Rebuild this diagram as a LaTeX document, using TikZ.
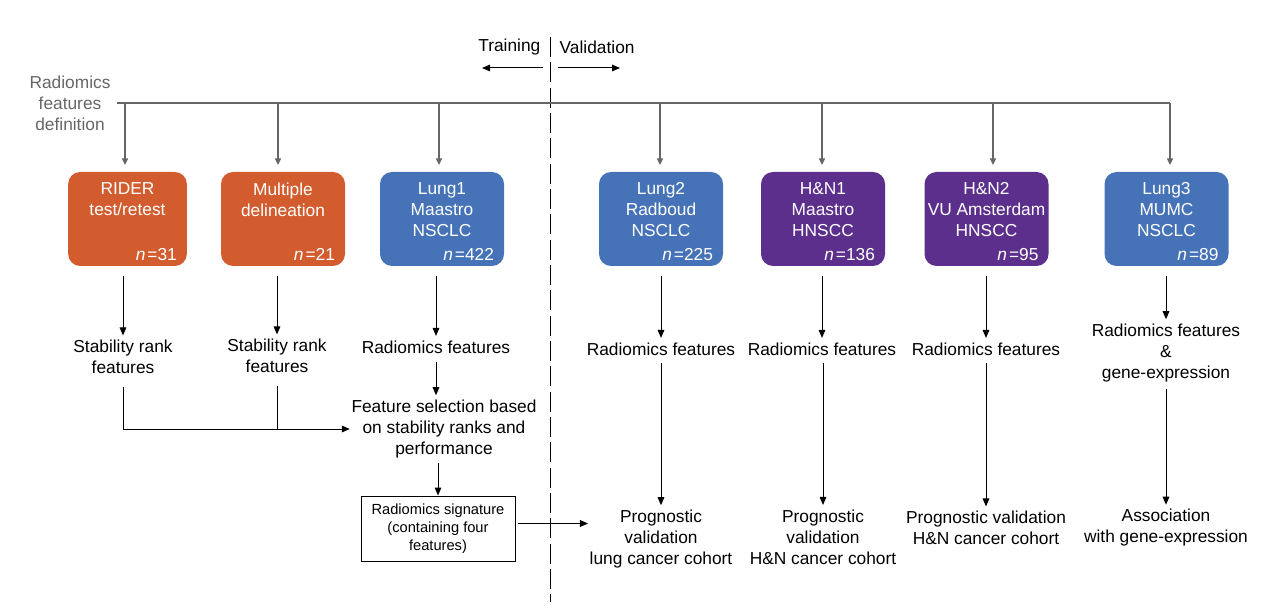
\documentclass[tikz,border=0pt]{standalone}
\usepackage{fontspec}
\setmainfont{Liberation Sans}
\usetikzlibrary{arrows.meta,calc}
\definecolor{cOrange}{HTML}{D35C2F}
\definecolor{cBlue}{HTML}{4673B7}
\definecolor{cPurple}{HTML}{5B2F8B}
\definecolor{cGrey}{HTML}{666666}
\begin{document}
\begin{tikzpicture}[x=0.75pt,y=-0.75pt,
  cohort/.style={rounded corners=9pt,minimum width=93pt,minimum height=70.5pt,inner sep=0pt},
  boxtxt/.style={text=white,font=\fontsize{13}{15.75}\selectfont,align=center,anchor=north,inner sep=0pt},
  ntxt/.style={text=white,font=\fontsize{13}{15.75}\selectfont,anchor=base east,inner sep=0pt},
  txt/.style={font=\fontsize{13}{15.75}\selectfont,align=center},
  sigbox/.style={draw,line width=0.75pt,font=\fontsize{11}{13.5}\selectfont,align=center,minimum width=115.5pt,minimum height=48.75pt,inner sep=2pt},
  arr/.style={line width=0.75pt,-{Triangle[length=6pt,width=5pt]}},
  plain/.style={line width=0.75pt},
  garr/.style={cGrey,line width=0.9pt,-{Triangle[length=5pt,width=4.5pt]}},
  gline/.style={cGrey,line width=0.9pt}
]
\useasboundingbox (0,0) rectangle (1274,609);

% training / validation
\draw[plain,dash pattern=on 15pt off 4pt] (550,37) -- (550,602);
\node[txt,anchor=east] (train) at (545,47) {Training};
\node[txt,anchor=west] (valid) at (555,47) {Validation};
\coordinate (tl1) at (543,68); \coordinate (tl2) at (482,68);
\coordinate (vl1) at (558,68); \coordinate (vl2) at (620,68);
\draw[arr] (tl1) -- (tl2);
\draw[arr] (vl1) -- (vl2);

% definition header
\node[txt,text=cGrey] (def) at (70,103) {Radiomics\\features\\definition};
\coordinate (hl) at (117,103);
\coordinate (hr) at (1170,103);
\draw[gline] (hl) -- (hr);

% cohort boxes
\node[cohort,fill=cOrange,minimum width=89pt] (b1) at (127.5,219) {};
\node[cohort,fill=cOrange] (b2) at (283,219) {};
\node[cohort,fill=cBlue] (b3) at (442,219) {};
\node[cohort,fill=cBlue] (b4) at (661,219) {};
\node[cohort,fill=cPurple] (b5) at (823,219) {};
\node[cohort,fill=cPurple] (b6) at (986.5,219) {};
\node[cohort,fill=cBlue] (b7) at (1166.5,219) {};

\node[boxtxt] (b1t) at ($(b1.north)+(0,10.5)$) {RIDER\\test/retest};
\node[boxtxt] (b2t) at ($(b2.north)+(0,10.5)$) {Multiple\\delineation};
\node[boxtxt] (b3t) at ($(b3.north)+(0,10.5)$) {Lung1\\Maastro\\NSCLC};
\node[boxtxt] (b4t) at ($(b4.north)+(0,10.5)$) {Lung2\\Radboud\\NSCLC};
\node[boxtxt] (b5t) at ($(b5.north)+(0,10.5)$) {H\&N1\\Maastro\\HNSCC};
\node[boxtxt] (b6t) at ($(b6.north)+(0,10.5)$) {H\&N2\\VU Amsterdam\\HNSCC};
\node[boxtxt] (b7t) at ($(b7.north)+(0,10.5)$) {Lung3\\MUMC\\NSCLC};

\node[ntxt] (b1n) at ($(b1.south east)+(-10,-6)$) {\textit{n}\hspace{1.5pt}=31};
\node[ntxt] (b2n) at ($(b2.south east)+(-10,-6)$) {\textit{n}\hspace{1.5pt}=21};
\node[ntxt] (b3n) at ($(b3.south east)+(-10,-6)$) {\textit{n}\hspace{1.5pt}=422};
\node[ntxt] (b4n) at ($(b4.south east)+(-10,-6)$) {\textit{n}\hspace{1.5pt}=225};
\node[ntxt] (b5n) at ($(b5.south east)+(-10,-6)$) {\textit{n}\hspace{1.5pt}=136};
\node[ntxt] (b6n) at ($(b6.south east)+(-10,-6)$) {\textit{n}\hspace{1.5pt}=95};
\node[ntxt] (b7n) at ($(b7.south east)+(-10,-6)$) {\textit{n}\hspace{1.5pt}=89};

% drops from header
\foreach \b/\x in {b1/125,b2/278,b3/439,b4/660,b5/822,b6/993,b7/1170}{
  \draw[garr,shorten >=5pt] (\x,103) -- (\x,103 |- \b.north) ;
}

% second row texts
\node[txt] (t1) at (123,357) {Stability rank\\features};
\node[txt] (t2) at (277,356) {Stability rank\\features};
\node[txt] (t3) at (436,347) {Radiomics features};
\node[txt] (fs) at (444,429) {Feature selection based\\on stability ranks and\\performance};
\node[sigbox] (sig) at (438,528.5) {Radiomics signature\\(containing four\\features)};
\node[txt] (r4) at (661,349) {Radiomics features};
\node[txt] (r5) at (822,349) {Radiomics features};
\node[txt] (r6) at (986,349) {Radiomics features};
\node[txt] (r7) at (1166,353) {Radiomics features\\\&\\gene-expression};

\node[txt] (p4) at (661,539) {Prognostic\\validation\\lung cancer cohort};
\node[txt] (p5) at (823,537) {Prognostic\\validation\\H\&N cancer cohort};
\node[txt] (p6) at (986,528) {Prognostic validation\\H\&N cancer cohort};
\node[txt] (p7) at (1166,528) {Association\\with gene-expression};

% box -> texts
\foreach \b/\t in {b1/t1,b2/t2,b3/t3,b4/r4,b5/r5,b6/r6,b7/r7}{
  \draw[arr,shorten <=7.5pt] (\t.north |- \b.south) -- (\t.north);
}
% lung1 path
\draw[arr,shorten <=3pt] (t3.south) -- (t3.south |- fs.north);
\draw[arr,shorten <=6pt] (t1.south) -- (t1.south |- fs.west) -- ($(fs.west)+(3,0)$);
\draw[plain,shorten <=6pt] (t2.south) -- (t2.south |- fs.west);
\draw[arr] (sig.north |- fs.south) -- (sig.north);
\draw[arr,shorten <=2pt] ($(sig.east)+(0,-5)$) -- ($(sig.east -| p4.west)+(3,-5)$);
% validation arrows
\foreach \r/\p in {r4/p4,r5/p5,r6/p6,r7/p7}{
  \draw[arr,shorten <=2pt] (\p.north |- \r.south) -- (\p.north);
}
\end{tikzpicture}
\end{document}
